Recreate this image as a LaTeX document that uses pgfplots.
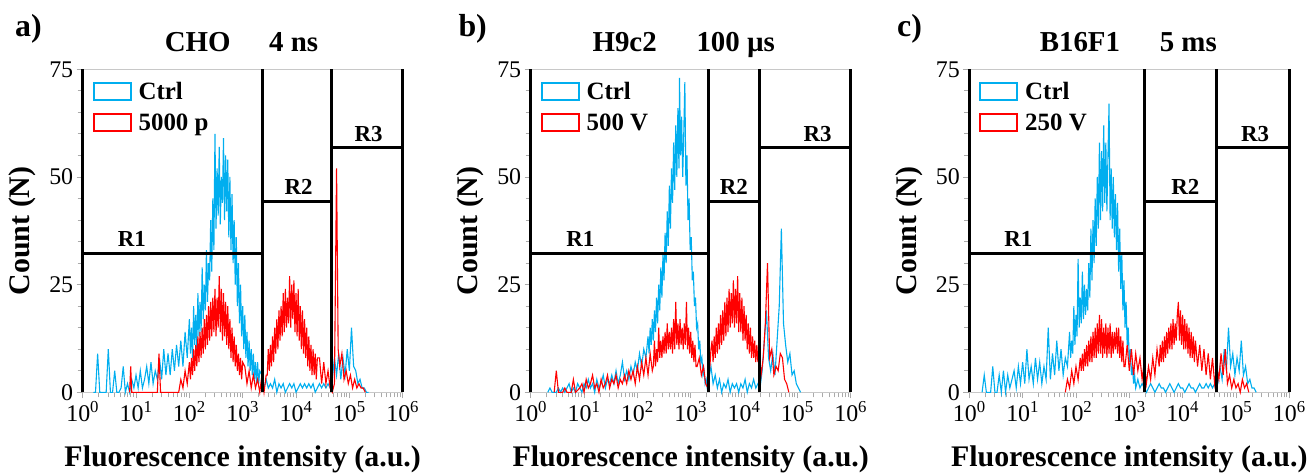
\documentclass[border=0pt]{standalone}
\usepackage{fontspec}
\setmainfont{Liberation Serif}
\usepackage{pgfplots}
\pgfplotsset{compat=1.18}
\definecolor{ctrlblue}{RGB}{0,174,239}
\definecolor{trtred}{RGB}{255,0,0}
\definecolor{framegray}{RGB}{200,200,200}
\definecolor{tickgray}{RGB}{170,170,170}
\pgfplotsset{
 gate/.style={black, line width=3bp, forget plot},
 panel/.style={
  scale only axis, width=320bp, height=323bp,
  xmin=0, xmax=6, ymin=0, ymax=75,
  clip=false,
  separate axis lines,
  every outer x axis line/.append style={draw=framegray, line width=1.2bp},
  every outer y axis line/.append style={draw=none},
  xtick={0,1,2,3,4,5,6},
  xticklabels={10\textsuperscript{0},10\textsuperscript{1},10\textsuperscript{2},10\textsuperscript{3},10\textsuperscript{4},10\textsuperscript{5},10\textsuperscript{6}},
  minor xtick={0.301,0.477,0.602,0.699,0.778,0.845,0.903,0.954,
   1.301,1.477,1.602,1.699,1.778,1.845,1.903,1.954,
   2.301,2.477,2.602,2.699,2.778,2.845,2.903,2.954,
   3.301,3.477,3.602,3.699,3.778,3.845,3.903,3.954,
   4.301,4.477,4.602,4.699,4.778,4.845,4.903,4.954,
   5.301,5.477,5.602,5.699,5.778,5.845,5.903,5.954},
  ytick={0,25,50,75}, yticklabels={0,25,50,75},
  minor ytick={5,10,15,20,30,35,40,45,55,60,65,70},
  tick align=outside, tick pos=left,
  major tick length=6bp, minor tick length=5bp,
  every tick/.append style={draw=tickgray, line width=0.9bp},
  every minor tick/.append style={draw=tickgray, line width=0.9bp},
  ticklabel style={font=\fontsize{24}{24}\selectfont},
  xlabel={Fluorescence intensity (a.u.)},
  ylabel={Count (N)},
  label style={font=\fontsize{30}{30}\selectfont\bfseries},
  xlabel style={at={([yshift=-74.4bp]axis description cs:0.5,0)}, anchor=base},
  ylabel style={at={([xshift=-60bp]axis description cs:0,0.5)}, anchor=center},
  legend cell align=left,
  legend style={at={(rel axis cs:0.031,0.968)}, anchor=north west, draw=none, fill=none,
    font=\fontsize{25}{25}\selectfont\bfseries, row sep=9bp, column sep=5bp, inner sep=0pt},
  legend image code/.code={\draw[#1, line width=1.8bp, fill=white] (0bp,-8.5bp) rectangle (37bp,8.5bp);},
  every axis plot/.append style={line width=1.1bp},
 },
}
\begin{document}
\begin{tikzpicture}
\useasboundingbox (-82.7bp,-80.7bp) rectangle (1231.3bp,392.3bp);
% ---------------- panel a ----------------
\begin{axis}[panel, at={(0bp,0bp)}, anchor=south west]
\addplot[ctrlblue, sharp plot] coordinates {
(0.20,0)(0.24,0)(0.28,9)(0.32,0)(0.36,0)(0.40,0)(0.44,0)(0.48,10)(0.52,0)(0.56,0)(0.60,5)(0.64,0)(0.68,0)(0.72,1)(0.76,6)(0.80,0)(0.84,2)(0.88,0)(0.92,3)(0.96,1)(1.00,4)(1.04,1)(1.08,5)(1.12,1)(1.16,3)(1.20,6)(1.24,2)(1.28,7)(1.32,2)(1.36,5)(1.40,3)(1.44,8)(1.48,3)(1.52,10)(1.56,4)(1.60,9)(1.64,4)(1.68,10)(1.72,5)(1.76,11)(1.80,6)(1.84,12)(1.88,6)(1.92,14)(1.96,8)
(2.00,17)(2.02,9)(2.04,15)(2.06,8)(2.08,20)(2.10,11)(2.12,18)(2.14,10)(2.16,23)(2.18,13)(2.20,21)(2.22,14)(2.24,29)(2.26,17)(2.28,25)(2.30,19)(2.32,33)(2.34,21)(2.36,30)(2.38,26)(2.40,40)(2.42,28)(2.44,45)(2.46,33)(2.48,60)(2.50,38)(2.52,52)(2.54,41)(2.56,57)(2.58,39)(2.60,50)(2.62,44)(2.64,59)(2.66,40)(2.68,55)(2.70,42)(2.72,54)(2.74,36)(2.76,50)(2.78,33)(2.80,46)(2.82,30)(2.84,40)(2.86,25)(2.88,36)(2.90,20)(2.92,30)(2.94,16)(2.96,25)(2.98,13)(3.00,20)(3.02,10)(3.04,18)(3.06,8)(3.08,14)(3.10,6)(3.12,12)(3.14,5)(3.16,10)(3.18,4)(3.20,9)(3.22,3)(3.24,7)(3.26,2)(3.28,7)(3.30,2)(3.32,5)
(3.36,4)(3.40,1)(3.44,3)(3.48,1)(3.52,2)(3.56,1)(3.60,3)(3.64,0)(3.68,2)(3.72,1)(3.76,2)(3.80,0)(3.84,1)(3.88,2)(3.92,1)(3.96,2)(4.00,0)(4.04,1)(4.08,2)(4.12,1)(4.16,2)(4.20,1)(4.24,2)(4.28,1)(4.32,2)(4.36,0)(4.40,1)(4.44,2)(4.48,1)(4.52,2)(4.56,1)(4.60,2)(4.64,1)(4.68,3)(4.72,8)(4.76,4)(4.80,9)(4.84,3)(4.88,8)(4.92,4)(4.96,10)(5.00,5)(5.04,15)(5.08,6)(5.12,5)(5.16,2)(5.20,3)(5.24,1)(5.28,1)(5.32,0)(5.36,0)};
\addlegendentry{Ctrl}
\addplot[trtred, sharp plot] coordinates {
(0.88,0)(0.90,6)(0.92,0)(1.40,0)(1.43,9)(1.46,0)(1.80,0)(1.84,3)(1.88,1)(1.92,5)(1.96,2)
(2.00,7)(2.02,3)(2.04,8)(2.06,4)(2.08,10)(2.10,5)(2.12,11)(2.14,6)(2.16,13)(2.18,7)(2.20,14)(2.22,8)(2.24,15)(2.26,9)(2.28,17)(2.30,10)(2.32,18)(2.34,11)(2.36,20)(2.38,12)(2.40,21)(2.42,13)(2.44,22)(2.46,14)(2.48,24)(2.50,13)(2.52,22)(2.54,15)(2.56,27)(2.58,14)(2.60,24)(2.62,12)(2.64,23)(2.66,13)(2.68,21)(2.70,11)(2.72,20)(2.74,10)(2.76,17)(2.78,8)(2.80,15)(2.82,7)(2.84,13)(2.86,6)(2.88,11)(2.90,5)(2.92,9)(2.94,4)(2.96,8)(2.98,3)(3.00,7)
(3.04,6)(3.08,2)(3.12,5)(3.16,1)(3.20,4)(3.24,1)(3.28,3)(3.32,0)(3.36,4)(3.40,0)(3.44,4)
(3.46,4)(3.48,10)(3.50,5)(3.52,11)(3.54,6)(3.56,13)(3.58,7)(3.60,15)(3.62,9)(3.64,17)(3.66,10)(3.68,19)(3.70,12)(3.72,20)(3.74,13)(3.76,23)(3.78,14)(3.80,24)(3.82,15)(3.84,22)(3.86,16)(3.88,27)(3.90,15)(3.92,25)(3.94,17)(3.96,26)(3.98,14)(4.00,23)(4.02,13)(4.04,24)(4.06,12)(4.08,20)(4.10,10)(4.12,19)(4.14,9)(4.16,17)(4.18,8)(4.20,15)(4.22,6)(4.24,13)(4.26,5)(4.28,11)(4.30,4)(4.32,10)(4.34,4)(4.36,9)(4.38,3)(4.40,8)
(4.44,8)(4.48,2)(4.52,7)(4.56,2)(4.60,5)(4.64,1)(4.68,0)(4.72,2)(4.76,52)(4.79,10)(4.82,6)(4.86,9)(4.90,3)(4.94,5)(4.98,2)(5.02,4)(5.06,1)(5.10,3)(5.14,1)(5.18,2)(5.22,1)(5.26,1)(5.30,0)};
\addlegendentry{5000 p}
\addplot[gate] coordinates {(0,0)(0,75)};
\addplot[gate] coordinates {(3.37,0)(3.37,75)};
\addplot[gate] coordinates {(4.67,0)(4.67,75)};
\addplot[gate] coordinates {(6,0)(6,75)};
\addplot[gate] coordinates {(0,32.3)(3.37,32.3)};
\addplot[gate] coordinates {(3.37,44.3)(4.67,44.3)};
\addplot[gate] coordinates {(4.67,56.8)(6,56.8)};
\node[anchor=base, font=\fontsize{23}{23}\selectfont\bfseries] at (axis cs:0.92,33.8) {R1};
\node[anchor=base, font=\fontsize{23}{23}\selectfont\bfseries] at (axis cs:4.05,46.0) {R2};
\node[anchor=base, font=\fontsize{23}{23}\selectfont\bfseries] at (axis cs:5.36,58.2) {R3};
\node[anchor=base west, font=\fontsize{32}{32}\selectfont\bfseries] at ([shift={(-71bp,32.6bp)}]rel axis cs:0,1) {a)};
\node[anchor=base west, font=\fontsize{29}{29}\selectfont\bfseries] at ([shift={(78.6bp,17.6bp)}]rel axis cs:0,1) {CHO};
\node[anchor=base west, font=\fontsize{29}{29}\selectfont\bfseries] at ([shift={(183bp,17.6bp)}]rel axis cs:0,1) {4 ns};
\end{axis}
% ---------------- panel b ----------------
\begin{axis}[panel, at={(448bp,0bp)}, anchor=south west]
\addplot[ctrlblue, sharp plot] coordinates {
(0.32,0)(0.36,1)(0.40,0)(0.48,0)(0.52,1)(0.56,0)(0.60,1)(0.64,0)(0.68,1)(0.72,2)(0.76,0)(0.80,1)(0.84,0)(0.88,2)(0.92,1)(0.96,0)(1.00,2)(1.04,1)(1.08,3)(1.12,1)(1.16,2)(1.20,0)(1.24,3)(1.28,1)(1.32,2)(1.36,4)(1.40,1)(1.44,3)(1.48,2)(1.52,4)(1.56,2)(1.60,5)(1.64,2)(1.68,4)(1.72,7)(1.76,3)(1.80,5)(1.84,3)(1.88,6)(1.92,4)(1.96,7)(2.00,5)(2.04,9)(2.08,6)(2.12,10)(2.16,8)
(2.20,13)(2.22,9)(2.24,15)(2.26,11)(2.28,17)(2.30,12)(2.32,19)(2.34,14)(2.36,22)(2.38,16)(2.40,25)(2.42,19)(2.44,29)(2.46,22)(2.48,32)(2.50,26)(2.52,37)(2.54,30)(2.56,42)(2.58,34)(2.60,48)(2.62,38)(2.64,52)(2.66,44)(2.68,58)(2.70,47)(2.72,62)(2.74,50)(2.76,66)(2.78,52)(2.79,73)(2.81,55)(2.83,64)(2.85,50)(2.87,60)(2.89,72)(2.91,48)(2.93,55)(2.95,40)(2.97,45)(2.99,33)(3.01,36)(3.03,26)(3.05,28)(3.07,20)(3.09,22)(3.11,15)(3.13,16)(3.15,10)(3.17,12)(3.19,7)(3.21,8)(3.23,4)(3.25,5)(3.27,2)(3.29,3)(3.31,1)
(3.38,6)(3.42,2)(3.46,4)(3.50,1)(3.54,3)(3.58,0)(3.62,2)(3.66,1)(3.70,3)(3.74,0)(3.78,2)(3.82,1)(3.86,2)(3.90,0)(3.94,2)(3.98,1)(4.02,3)(4.06,0)(4.10,2)(4.14,1)(4.18,3)(4.22,1)(4.26,2)(4.30,1)(4.34,5)(4.38,12)(4.42,19)(4.46,8)(4.50,5)(4.54,9)(4.58,4)(4.62,12)(4.66,20)(4.70,38)(4.74,16)(4.78,11)(4.82,7)(4.86,9)(4.90,4)(4.94,5)(4.98,2)(5.02,1)(5.06,0)};
\addlegendentry{Ctrl}
\addplot[trtred, sharp plot] coordinates {
(0.44,0)(0.48,5)(0.52,0)(0.60,0)(0.64,1)(0.68,0)(0.76,0)(0.80,3)(0.84,0)(0.92,1)(0.96,2)(1.00,0)(1.04,3)(1.08,1)(1.12,2)(1.16,4)(1.20,1)(1.24,2)(1.28,0)(1.32,3)(1.36,1)(1.40,2)(1.44,4)(1.48,1)(1.52,3)(1.56,2)(1.60,4)(1.64,1)(1.68,3)(1.72,2)(1.76,4)(1.80,2)(1.84,5)(1.88,3)(1.92,5)(1.96,2)(2.00,6)(2.04,3)(2.08,7)(2.12,4)(2.16,8)(2.20,4)(2.24,9)(2.28,5)
(2.30,6)(2.32,12)(2.34,6)(2.36,10)(2.38,7)(2.40,15)(2.42,8)(2.44,12)(2.46,8)(2.48,13)(2.50,9)(2.52,14)(2.54,9)(2.56,16)(2.58,10)(2.60,14)(2.62,10)(2.64,15)(2.66,9)(2.68,17)(2.70,10)(2.72,21)(2.74,11)(2.76,16)(2.78,10)(2.80,17)(2.82,11)(2.84,15)(2.86,10)(2.88,16)(2.90,11)(2.92,21)(2.94,10)(2.96,15)(2.98,9)(3.00,14)(3.02,8)(3.04,12)(3.06,7)(3.08,11)(3.10,6)
(3.12,6)(3.16,8)(3.20,4)(3.24,6)(3.28,2)(3.32,1)
(3.36,6)(3.38,10)(3.40,12)(3.42,7)(3.44,13)(3.46,8)(3.48,15)(3.50,9)(3.52,16)(3.54,10)(3.56,18)(3.58,11)(3.60,19)(3.62,12)(3.64,21)(3.66,13)(3.68,22)(3.70,14)(3.72,24)(3.74,15)(3.76,23)(3.78,16)(3.80,26)(3.82,15)(3.84,24)(3.86,16)(3.88,27)(3.90,14)(3.92,23)(3.94,14)(3.96,22)(3.98,12)(4.00,20)(4.02,12)(4.04,18)(4.06,10)(4.08,16)(4.10,9)(4.12,15)(4.14,8)(4.16,13)(4.18,8)(4.20,12)(4.22,7)(4.24,11)(4.26,7)(4.28,10)
(4.32,4)(4.36,8)(4.40,16)(4.44,30)(4.48,8)(4.52,10)(4.56,4)(4.60,6)(4.64,5)(4.68,9)(4.72,8)(4.76,3)(4.80,2)(4.84,0)};
\addlegendentry{500 V}
\addplot[gate] coordinates {(0,0)(0,75)};
\addplot[gate] coordinates {(3.33,0)(3.33,75)};
\addplot[gate] coordinates {(4.29,0)(4.29,75)};
\addplot[gate] coordinates {(6,0)(6,75)};
\addplot[gate] coordinates {(0,32.3)(3.33,32.3)};
\addplot[gate] coordinates {(3.33,44.3)(4.29,44.3)};
\addplot[gate] coordinates {(4.29,56.8)(6,56.8)};
\node[anchor=base, font=\fontsize{23}{23}\selectfont\bfseries] at (axis cs:0.93,33.8) {R1};
\node[anchor=base, font=\fontsize{23}{23}\selectfont\bfseries] at (axis cs:3.81,46.0) {R2};
\node[anchor=base, font=\fontsize{23}{23}\selectfont\bfseries] at (axis cs:5.38,58.2) {R3};
\node[anchor=base west, font=\fontsize{32}{32}\selectfont\bfseries] at ([shift={(-75.7bp,32.6bp)}]rel axis cs:0,1) {b)};
\node[anchor=base west, font=\fontsize{29}{29}\selectfont\bfseries] at ([shift={(58.3bp,17.6bp)}]rel axis cs:0,1) {H9c2};
\node[anchor=base west, font=\fontsize{29}{29}\selectfont\bfseries] at ([shift={(162.3bp,17.6bp)}]rel axis cs:0,1) {100 µs};
\end{axis}
% ---------------- panel c ----------------
\begin{axis}[panel, at={(886.6bp,0bp)}, anchor=south west]
\addplot[ctrlblue, sharp plot] coordinates {
(0.24,0)(0.28,4)(0.32,0)(0.36,0)(0.40,0)(0.44,6)(0.48,0)(0.52,0)(0.56,4)(0.60,0)(0.64,5)(0.68,0)(0.72,4)(0.76,1)(0.80,3)(0.84,5)(0.88,1)(0.92,6)(0.96,2)(1.00,7)(1.04,2)(1.08,10)(1.12,3)(1.16,6)(1.20,2)(1.24,8)(1.28,3)(1.32,7)(1.36,2)(1.40,6)(1.44,3)(1.48,15)(1.52,3)(1.56,9)(1.60,4)(1.64,12)(1.68,5)(1.72,10)(1.76,4)(1.80,8)(1.84,6)
(1.88,14)(1.90,8)(1.92,12)(1.94,9)(1.96,20)(1.98,11)(2.00,18)(2.02,13)(2.04,31)(2.06,15)(2.08,22)(2.10,16)(2.12,28)(2.14,17)(2.16,25)(2.18,18)(2.20,24)(2.22,19)(2.24,30)(2.26,22)(2.28,38)(2.30,26)(2.32,40)(2.34,30)(2.36,45)(2.38,34)(2.40,50)(2.42,38)(2.44,58)(2.46,40)(2.48,56)(2.50,42)(2.52,62)(2.54,44)(2.56,58)(2.58,42)(2.60,55)(2.62,67)(2.64,40)(2.66,52)(2.68,38)(2.70,50)(2.72,36)(2.74,46)(2.76,33)(2.78,44)(2.80,28)(2.82,38)(2.84,24)(2.86,32)(2.88,19)(2.90,26)(2.92,15)(2.94,21)(2.96,11)(2.98,15)(3.00,7)(3.02,10)(3.04,4)(3.06,6)(3.08,2)(3.10,4)(3.12,1)
(3.16,3)(3.20,1)(3.24,2)(3.28,1)(3.32,0)(3.36,1)(3.40,2)(3.44,1)(3.48,0)(3.52,1)(3.56,2)(3.60,1)(3.64,1)(3.68,0)(3.72,1)(3.76,2)(3.80,1)(3.84,0)(3.88,1)(3.92,2)(3.96,1)(4.00,1)(4.04,0)(4.08,1)(4.12,2)(4.16,1)(4.20,1)(4.24,0)(4.28,1)(4.32,2)(4.36,1)(4.40,1)(4.44,2)(4.48,1)(4.52,2)(4.56,1)(4.60,2)(4.62,1)(4.66,2)(4.70,6)(4.74,3)(4.78,10)(4.82,5)(4.86,15)(4.90,6)(4.94,9)(4.98,4)(5.02,8)(5.06,5)(5.10,12)(5.14,4)(5.18,6)(5.22,2)(5.26,3)(5.30,1)(5.34,1)(5.38,0)};
\addlegendentry{Ctrl}
\addplot[trtred, sharp plot] coordinates {
(1.80,0)(1.84,3)(1.88,1)(1.92,5)(1.96,2)(2.00,6)(2.04,3)(2.08,8)
(2.10,5)(2.12,9)(2.14,5)(2.16,10)(2.18,6)(2.20,11)(2.22,6)(2.24,12)(2.26,7)(2.28,13)(2.30,7)(2.32,14)(2.34,8)(2.36,15)(2.38,8)(2.40,16)(2.42,9)(2.44,18)(2.46,9)(2.48,17)(2.50,8)(2.52,15)(2.54,9)(2.56,16)(2.58,8)(2.60,15)(2.62,9)(2.64,16)(2.66,8)(2.68,14)(2.70,9)(2.72,14)(2.74,10)(2.76,15)(2.78,9)(2.80,15)(2.82,8)(2.84,13)(2.86,7)(2.88,12)(2.90,6)
(2.92,6)(2.96,11)(3.00,5)(3.04,10)(3.08,4)(3.12,9)(3.16,5)(3.20,8)(3.24,3)(3.28,7)(3.32,2)(3.36,6)(3.40,3)(3.44,8)(3.48,4)(3.52,10)
(3.56,6)(3.58,11)(3.60,7)(3.62,12)(3.64,7)(3.66,13)(3.68,8)(3.70,14)(3.72,9)(3.74,15)(3.76,10)(3.78,16)(3.80,10)(3.82,17)(3.84,11)(3.86,16)(3.88,12)(3.90,18)(3.92,21)(3.94,12)(3.96,19)(3.98,11)(4.00,18)(4.02,10)(4.04,17)(4.06,10)(4.08,16)(4.10,9)(4.12,15)(4.14,8)(4.16,14)(4.18,8)(4.20,13)(4.22,7)(4.24,12)
(4.28,6)(4.32,11)(4.36,5)(4.40,10)(4.44,4)(4.48,9)(4.52,3)(4.56,8)(4.60,2)(4.64,6)(4.68,3)(4.72,9)(4.76,4)(4.80,10)(4.84,2)(4.88,4)(4.92,1)(4.96,3)(5.00,1)(5.04,2)(5.08,0)(5.12,3)(5.16,1)(5.20,2)(5.24,0)};
\addlegendentry{250 V}
\addplot[gate] coordinates {(0,0)(0,75)};
\addplot[gate] coordinates {(3.28,0)(3.28,75)};
\addplot[gate] coordinates {(4.64,0)(4.64,75)};
\addplot[gate] coordinates {(6,0)(6,75)};
\addplot[gate] coordinates {(0,32.3)(3.28,32.3)};
\addplot[gate] coordinates {(3.28,44.3)(4.64,44.3)};
\addplot[gate] coordinates {(4.64,56.8)(6,56.8)};
\node[anchor=base, font=\fontsize{23}{23}\selectfont\bfseries] at (axis cs:0.92,33.8) {R1};
\node[anchor=base, font=\fontsize{23}{23}\selectfont\bfseries] at (axis cs:4.05,46.0) {R2};
\node[anchor=base, font=\fontsize{23}{23}\selectfont\bfseries] at (axis cs:5.36,58.2) {R3};
\node[anchor=base west, font=\fontsize{32}{32}\selectfont\bfseries] at ([shift={(-75.6bp,32.6bp)}]rel axis cs:0,1) {c)};
\node[anchor=base west, font=\fontsize{29}{29}\selectfont\bfseries] at ([shift={(67bp,17.6bp)}]rel axis cs:0,1) {B16F1};
\node[anchor=base west, font=\fontsize{29}{29}\selectfont\bfseries] at ([shift={(187bp,17.6bp)}]rel axis cs:0,1) {5 ms};
\end{axis}
\end{tikzpicture}
\end{document}
